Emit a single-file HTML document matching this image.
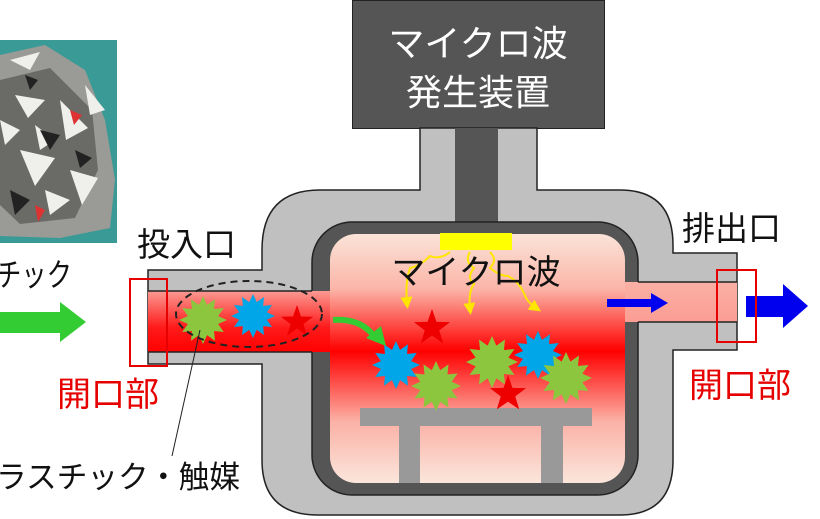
<!DOCTYPE html>
<html><head><meta charset="utf-8"><style>
html,body{margin:0;padding:0;background:#fff;}
svg{display:block}
text{font-family:"Liberation Sans","Noto Sans CJK JP",sans-serif;}
</style></head><body>
<svg width="820" height="519" viewBox="0 0 820 519" xmlns="http://www.w3.org/2000/svg">
<defs>
<linearGradient id="ch" x1="0" y1="0" x2="0" y2="1">
<stop offset="0" stop-color="#fbe3d8"/>
<stop offset="0.22" stop-color="#fbb5a8"/>
<stop offset="0.47" stop-color="#ff0000"/>
<stop offset="0.75" stop-color="#fbb0a5"/>
<stop offset="1" stop-color="#fbe6dc"/>
</linearGradient>
<linearGradient id="pl" x1="0" y1="0" x2="0" y2="1">
<stop offset="0" stop-color="#fa9a92"/>
<stop offset="0.6" stop-color="#ff1a1a"/>
<stop offset="1" stop-color="#ff0000"/>
</linearGradient>
<linearGradient id="pr" x1="0" y1="0" x2="0" y2="1">
<stop offset="0" stop-color="#fbb0a5"/>
<stop offset="1" stop-color="#fb9d93"/>
</linearGradient>
<polygon id="b" points="1,0 .628,.168 .866,.5 .46,.46 .5,.866 .168,.628 0,1 -.168,.628 -.5,.866 -.46,.46 -.866,.5 -.628,.168 -1,0 -.628,-.168 -.866,-.5 -.46,-.46 -.5,-.866 -.168,-.628 0,-1 .168,-.628 .5,-.866 .46,-.46 .866,-.5 .628,-.168"/>
<polygon id="s" points="0,-1 .235,-.324 .951,-.309 .38,.124 .588,.809 0,.4 -.588,.809 -.38,.124 -.951,-.309 -.235,-.324"/>
<marker id="ya" markerWidth="6" markerHeight="6" refX="3" refY="3" orient="auto"><path d="M0,0 L6,3 L0,6z" fill="#ffe600"/></marker>
</defs>

<!-- photo -->
<rect x="0" y="40" width="117" height="203" fill="#3a9a95"/>
<path d="M0,55 L45,45 L85,70 L105,120 L115,180 L110,228 L60,238 L0,236z" fill="#9a9a96"/>
<path d="M0,80 L50,68 L92,110 L98,170 L75,218 L20,224 L0,205z" fill="#6a6a66"/>
<g fill="#efefeb">
<path d="M10,60 L40,52 L30,70z M15,95 L45,100 L28,118z M60,100 L88,128 L66,140z M20,150 L55,158 L35,186z M70,170 L98,178 L82,205z M0,120 L20,130 L5,145z M45,190 L70,200 L50,215z M85,85 L105,110 L90,115z M35,125 L55,140 L40,150z"/>
</g>
<g fill="#222"><path d="M40,130 L60,135 L50,150z M10,190 L30,200 L15,215z M75,150 L92,158 L80,168z M25,75 L38,80 L30,90z"/></g>
<g fill="#d33"><path d="M70,110 L82,115 L74,125z M35,205 L45,210 L38,222z"/></g>

<!-- generator -->
<rect x="352.5" y="0.5" width="252" height="128" fill="#555" stroke="#222"/>
<text x="478" y="56" font-size="36" fill="#fff" text-anchor="middle">マイクロ波</text>
<text x="478" y="105" font-size="36" fill="#fff" text-anchor="middle">発生装置</text>

<!-- housing -->
<path d="M420,128 L420,190 L320,190 Q262,190 262,250 L262,270 L148,270 L148,364 L262,364 L262,460 Q262,515 318,515 L620,515 Q673,515 673,460 L673,350 L737,350 L737,253 L673,253 L673,245 Q673,190 620,190 L537,190 L537,128z" fill="#c0c0c0" stroke="#222" stroke-width="1.5"/>
<rect x="455" y="128" width="43" height="96" fill="#555"/>
<rect x="312" y="222" width="326" height="273" rx="40" fill="#555" stroke="#222" stroke-width="1.5"/>
<rect x="148" y="291" width="182" height="61" fill="url(#pl)"/>
<line x1="148" y1="291" x2="312" y2="291" stroke="#222" stroke-width="1.5"/>
<line x1="148" y1="352" x2="312" y2="352" stroke="#222" stroke-width="1.5"/>
<rect x="625" y="282" width="112" height="40" fill="url(#pr)"/>
<line x1="638" y1="282" x2="737" y2="282" stroke="#222" stroke-width="1.5"/>
<line x1="638" y1="322" x2="737" y2="322" stroke="#222" stroke-width="1.5"/>
<rect x="330" y="234" width="295" height="249" rx="26" fill="url(#ch)"/>

<!-- table -->
<rect x="360" y="408" width="232" height="18" fill="#999"/>
<rect x="399" y="424" width="21" height="59" fill="#999"/>
<rect x="541" y="424" width="22" height="59" fill="#999"/>

<!-- yellow emitter + waves -->
<rect x="440" y="233" width="72" height="17" fill="#ffff00"/>
<g fill="none" stroke="#ffe600" stroke-width="2" marker-end="url(#ya)">
<path d="M450,252 q-10,8 -20,4 q-10,10 -20,12 q-5,15 -3,35"/>
<path d="M470,252 q-6,10 4,16 q-8,10 0,16 q-6,8 -4,25"/>
<path d="M490,252 q8,8 0,16 q10,8 18,8 q12,6 18,22 q4,6 10,10"/>
</g>
<text x="476" y="284" font-size="34" fill="#111" text-anchor="middle">マイクロ波</text>

<!-- chamber particles -->
<use href="#s" transform="translate(432,328) scale(19)" fill="#ee0000"/>
<use href="#b" transform="translate(396,365) scale(24)" fill="#00a6e8"/>
<use href="#b" transform="translate(436,386) scale(25)" fill="#8cc63f"/>
<use href="#b" transform="translate(492,362) scale(26)" fill="#8cc63f"/>
<use href="#b" transform="translate(538,355) scale(24)" fill="#00a6e8"/>
<use href="#b" transform="translate(566,378) scale(26)" fill="#8cc63f"/>
<use href="#s" transform="translate(508,394) scale(19)" fill="#ee0000"/>

<!-- pipe particles -->
<use href="#b" transform="translate(203,320) scale(24)" fill="#8cc63f"/>
<use href="#b" transform="translate(253,316) scale(22)" fill="#00a6e8"/>
<use href="#s" transform="translate(297,322) scale(17)" fill="#ee0000"/>
<ellipse cx="249" cy="314" rx="73" ry="33" fill="none" stroke="#222" stroke-width="2" stroke-dasharray="7,5"/>
<line x1="200" y1="330" x2="172" y2="456" stroke="#222" stroke-width="1"/>

<!-- green curved arrow -->
<path d="M333,320 Q360,318 374,336" fill="none" stroke="#33cc33" stroke-width="6"/>
<polygon points="366,338 386,346 381,326" fill="#33cc33"/>

<!-- input arrow -->
<polygon points="0,312 60,312 60,302 86,322 60,342 60,333 0,333" fill="#33cc33"/>

<!-- blue arrows -->
<rect x="607" y="299" width="46" height="8" fill="#0000ee"/>
<polygon points="651,293 668,303 651,313" fill="#0000ee"/>
<rect x="746" y="296" width="38" height="21" fill="#0000ee"/>
<polygon points="783,284 808,306 783,328" fill="#0000ee"/>

<!-- opening boxes -->
<rect x="130" y="279" width="37" height="87" fill="none" stroke="#e60000" stroke-width="2"/>
<rect x="717" y="270" width="39" height="72" fill="none" stroke="#e60000" stroke-width="2"/>

<!-- labels -->
<text x="137" y="256" font-size="33" fill="#111">投入口</text>
<text x="682" y="240" font-size="33" fill="#111">排出口</text>
<text x="57" y="406" font-size="34" fill="#e60000">開口部</text>
<text x="689" y="397" font-size="34" fill="#e60000">開口部</text>
<text x="-4" y="286" font-size="32" fill="#111" textLength="76" lengthAdjust="spacingAndGlyphs">チック</text>
<text x="-4" y="488" font-size="31" fill="#111" textLength="244" lengthAdjust="spacingAndGlyphs">ラスチック・触媒</text>
</svg>
</body></html>
